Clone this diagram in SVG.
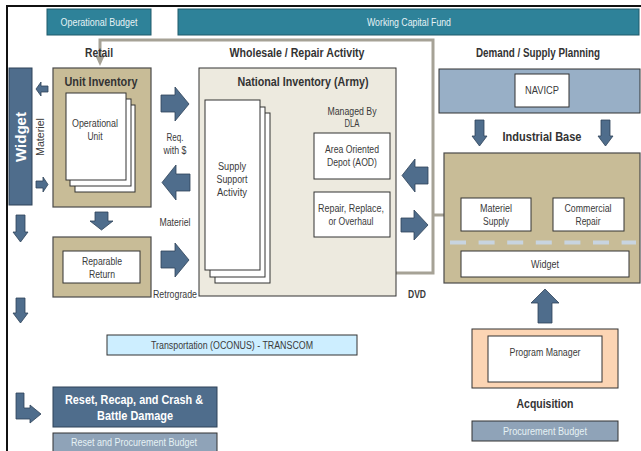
<svg xmlns="http://www.w3.org/2000/svg" width="641" height="451" viewBox="0 0 641 451">
  <style>
    text { font-family: "Liberation Sans", Arial, sans-serif; fill: #3a3a3a; }
    .lbl { font-size: 10px; text-anchor: middle; }
    .hd { font-size: 12px; font-weight: bold; text-anchor: middle; fill: #333; }
    .bar { font-size: 10px; text-anchor: middle; fill: #e6f2f5; }
    .rst { font-size: 12px; font-weight: bold; text-anchor: middle; fill: #ffffff; }
    .white { fill: #ffffff; stroke: #333; stroke-width: 1; }
    .tan { fill: #c8bc97; stroke: #4a4a4a; stroke-width: 1.2; }
    .arrow { fill: #4f6d8c; stroke: #2f4358; stroke-width: 0.8; }
    .conn { fill: none; stroke: #a6a296; stroke-width: 3; }
  </style>
  <defs>
    <marker id="gray-head" markerWidth="10" markerHeight="10" refX="6" refY="5" orient="auto-start-reverse" markerUnits="userSpaceOnUse" viewBox="0 0 10 10">
      <path d="M0,0.5 L10,5 L0,9.5 Z" fill="#a6a296"/>
    </marker>
  </defs>

  <rect width="641" height="451" fill="#ffffff"/>
  <!-- frame edges -->
  <path d="M7,451 V6 H641" fill="none" stroke="#111" stroke-width="2"/>

  <!-- budget bars -->
  <g id="operational-budget">
    <rect x="47" y="9" width="104" height="26" fill="#2e8299" stroke="#1f5a6a"/>
    <text class="bar" x="99" y="26" textLength="77" lengthAdjust="spacingAndGlyphs">Operational Budget</text>
  </g>
  <g id="working-capital-fund">
    <rect x="178" y="9" width="461" height="26" fill="#2e8299" stroke="#1f5a6a"/>
    <text class="bar" x="409" y="26" textLength="84" lengthAdjust="spacingAndGlyphs">Working Capital Fund</text>
  </g>

  <!-- connectors -->
  <g id="connectors">
    <path class="conn" d="M100,62 V40 H433 V273 H278" marker-start="url(#gray-head)" marker-end="url(#gray-head)"/>
    <path class="conn" d="M433,215 H461"/>
  </g>

  <!-- section headings -->
  <text class="hd" x="99" y="57" textLength="28" lengthAdjust="spacingAndGlyphs">Retail</text>
  <text class="hd" x="297" y="57" textLength="135" lengthAdjust="spacingAndGlyphs">Wholesale / Repair Activity</text>
  <text class="hd" x="538" y="57" textLength="124" lengthAdjust="spacingAndGlyphs">Demand / Supply Planning</text>

  <!-- retail side -->
  <g id="widget-bar">
    <rect x="9" y="68" width="23" height="137" fill="#4f6d8c" stroke="#2f4358"/>
    <text transform="translate(26,137) rotate(-90)" style="font-size:15px;font-weight:bold;fill:#ffffff;text-anchor:middle" textLength="50" lengthAdjust="spacingAndGlyphs">Widget</text>
    <text class="lbl" transform="translate(44,137) rotate(-90)" textLength="38" lengthAdjust="spacingAndGlyphs">Materiel</text>
  </g>
  <g id="unit-inventory">
    <rect class="tan" x="53" y="68" width="98" height="139"/>
    <text class="hd" x="101" y="86" textLength="73" lengthAdjust="spacingAndGlyphs">Unit Inventory</text>
    <rect class="white" x="75" y="105" width="60" height="87"/>
    <rect class="white" x="70" y="99" width="61" height="87"/>
    <rect class="white" x="66" y="93" width="60" height="87"/>
    <text class="lbl" x="95" y="127" textLength="46" lengthAdjust="spacingAndGlyphs">Operational</text>
    <text class="lbl" x="95" y="140" textLength="15" lengthAdjust="spacingAndGlyphs">Unit</text>
  </g>
  <g id="reparable-return">
    <rect class="tan" x="53" y="237" width="98" height="60"/>
    <rect class="white" x="63" y="251" width="77" height="32"/>
    <text class="lbl" x="102" y="265" textLength="40" lengthAdjust="spacingAndGlyphs">Reparable</text>
    <text class="lbl" x="102" y="278" textLength="26" lengthAdjust="spacingAndGlyphs">Return</text>
  </g>

  <!-- flow arrows -->
  <g id="arrows">
    <path class="arrow" d="M48,86 H41 V82 L36,89 L41,96 V92 H48 Z"/>
    <path class="arrow" d="M36,181 H43 V177 L48,184.5 L43,192 V188 H36 Z"/>
    <path class="arrow" d="M161,95 H175 V87 L189,104 L175,121 V112 H161 Z"/>
    <path class="arrow" d="M190,174 H176 V165 L162,182.5 L176,200 V191 H190 Z"/>
    <path class="arrow" d="M161,251 H175 V243 L189,260 L175,277 V268 H161 Z"/>
    <path class="arrow" d="M95,212 H108 V221 H113 L101.5,230 L90,221 H95 Z"/>
    <path class="arrow" d="M16,215 H25 V232 H28 L20.5,242 L13,232 H16 Z"/>
    <path class="arrow" d="M16,298 H25 V313 H28 L20.5,323 L13,313 H16 Z"/>
    <path class="arrow" d="M16,393 H24 V408 H30 V405 L41,414 L30,423 V419 H16 Z"/>
    <path class="arrow" d="M303,148 H290 V140 L276,156 L290,172 V164 H303 Z"/>
    <path class="arrow" d="M282,205 H295 V197 L308,212.5 L295,228 V220 H282 Z"/>
    <path class="arrow" d="M428,167 H415 V159 L402,175.5 L415,192 V184 H428 Z"/>
    <path class="arrow" d="M401,218 H414 V210 L428,225 L414,240 V232 H401 Z"/>
    <path class="arrow" d="M475,120 H484 V136 H487 L479.5,146 L472,136 H475 Z"/>
    <path class="arrow" d="M601,120 H610 V136 H613 L605.5,146 L598,136 H601 Z"/>
    <path class="arrow" d="M538,323 V303 H531 L545,289 L559,303 H552 V323 Z"/>
  </g>

  <text class="lbl" x="175" y="141" textLength="17" lengthAdjust="spacingAndGlyphs">Req.</text>
  <text class="lbl" x="175" y="154" textLength="23" lengthAdjust="spacingAndGlyphs">with $</text>
  <text class="lbl" x="175" y="226" textLength="31" lengthAdjust="spacingAndGlyphs">Materiel</text>
  <text class="lbl" x="175" y="298" textLength="44" lengthAdjust="spacingAndGlyphs">Retrograde</text>

  <!-- wholesale -->
  <g id="national-inventory">
    <rect x="199" y="68" width="197" height="228" fill="#edeadf" stroke="#333"/>
    <text class="hd" x="303" y="86" textLength="131" lengthAdjust="spacingAndGlyphs">National Inventory (Army)</text>
    <text class="lbl" x="352" y="115" textLength="49" lengthAdjust="spacingAndGlyphs">Managed By</text>
    <text class="lbl" x="352" y="127" textLength="15" lengthAdjust="spacingAndGlyphs">DLA</text>
  </g>
  <g id="supply-support-activity">
    <rect class="white" x="215" y="113" width="55" height="170"/>
    <rect class="white" x="210" y="107" width="55" height="170"/>
    <rect class="white" x="205" y="100" width="55" height="170"/>
    <text class="lbl" x="232" y="170" textLength="28" lengthAdjust="spacingAndGlyphs">Supply</text>
    <text class="lbl" x="232" y="183" textLength="31" lengthAdjust="spacingAndGlyphs">Support</text>
    <text class="lbl" x="232" y="196" textLength="30" lengthAdjust="spacingAndGlyphs">Activity</text>
  </g>
  <g id="aod">
    <rect class="white" x="314" y="133" width="76" height="46"/>
    <text class="lbl" x="352" y="153" textLength="54" lengthAdjust="spacingAndGlyphs">Area Oriented</text>
    <text class="lbl" x="352" y="166" textLength="50" lengthAdjust="spacingAndGlyphs">Depot (AOD)</text>
  </g>
  <g id="repair">
    <rect class="white" x="314" y="192" width="76" height="45"/>
    <text class="lbl" x="351" y="212" textLength="66" lengthAdjust="spacingAndGlyphs">Repair, Replace,</text>
    <text class="lbl" x="351" y="225" textLength="45" lengthAdjust="spacingAndGlyphs">or Overhaul</text>
  </g>
  <text class="lbl" x="417" y="298" style="font-weight:bold" textLength="18" lengthAdjust="spacingAndGlyphs">DVD</text>

  <!-- demand / supply planning -->
  <g id="navicp">
    <rect x="439" y="69" width="201" height="44" fill="#98afc6" stroke="#333"/>
    <rect class="white" x="515" y="74" width="54" height="33"/>
    <text class="lbl" x="542" y="94" textLength="34" lengthAdjust="spacingAndGlyphs">NAVICP</text>
  </g>
  <text class="hd" x="542" y="141" textLength="79" lengthAdjust="spacingAndGlyphs">Industrial Base</text>
  <g id="industrial-base">
    <rect class="tan" x="444" y="153" width="196" height="130"/>
    <rect class="white" x="461" y="198" width="70" height="33"/>
    <text class="lbl" x="496" y="212" textLength="32" lengthAdjust="spacingAndGlyphs">Materiel</text>
    <text class="lbl" x="496" y="225" textLength="26" lengthAdjust="spacingAndGlyphs">Supply</text>
    <rect class="white" x="553" y="198" width="71" height="33"/>
    <text class="lbl" x="588" y="212" textLength="47" lengthAdjust="spacingAndGlyphs">Commercial</text>
    <text class="lbl" x="588" y="225" textLength="25" lengthAdjust="spacingAndGlyphs">Repair</text>
    <path d="M450,242.5 H636" stroke="#c8d4e0" stroke-width="4" stroke-dasharray="16,12.6"/>
    <rect class="white" x="461" y="251" width="168" height="26"/>
    <text class="lbl" x="545" y="268" textLength="28" lengthAdjust="spacingAndGlyphs">Widget</text>
  </g>

  <!-- acquisition -->
  <g id="program-manager">
    <rect x="472" y="329" width="146" height="59" fill="#fcd5b4" stroke="#333"/>
    <rect class="white" x="488" y="336" width="114" height="46"/>
    <text class="lbl" x="545" y="356" textLength="71" lengthAdjust="spacingAndGlyphs">Program Manager</text>
  </g>
  <text class="hd" x="545" y="408" textLength="57" lengthAdjust="spacingAndGlyphs">Acquisition</text>
  <g id="procurement-budget">
    <rect x="472" y="421" width="146" height="20" fill="#8fa3b8" stroke="#333"/>
    <text class="bar" x="545" y="435" textLength="84" lengthAdjust="spacingAndGlyphs">Procurement Budget</text>
  </g>

  <!-- transportation -->
  <g id="transportation">
    <rect x="107" y="335" width="250" height="20" fill="#cdeeff" stroke="#333"/>
    <text class="lbl" x="232" y="349" textLength="162" lengthAdjust="spacingAndGlyphs">Transportation (OCONUS)  - TRANSCOM</text>
  </g>

  <!-- reset -->
  <g id="reset">
    <rect x="53" y="387" width="164" height="40" fill="#4f6d8c" stroke="#2f4358"/>
    <text class="rst" x="134" y="404" textLength="138" lengthAdjust="spacingAndGlyphs">Reset, Recap, and Crash &amp;</text>
    <text class="rst" x="135" y="420" textLength="76" lengthAdjust="spacingAndGlyphs">Battle Damage</text>
  </g>
  <g id="reset-budget">
    <rect x="53" y="433" width="164" height="20" fill="#8fa3b8" stroke="#333"/>
    <text class="bar" x="134" y="446" textLength="126" lengthAdjust="spacingAndGlyphs">Reset and Procurement Budget</text>
  </g>
</svg>
